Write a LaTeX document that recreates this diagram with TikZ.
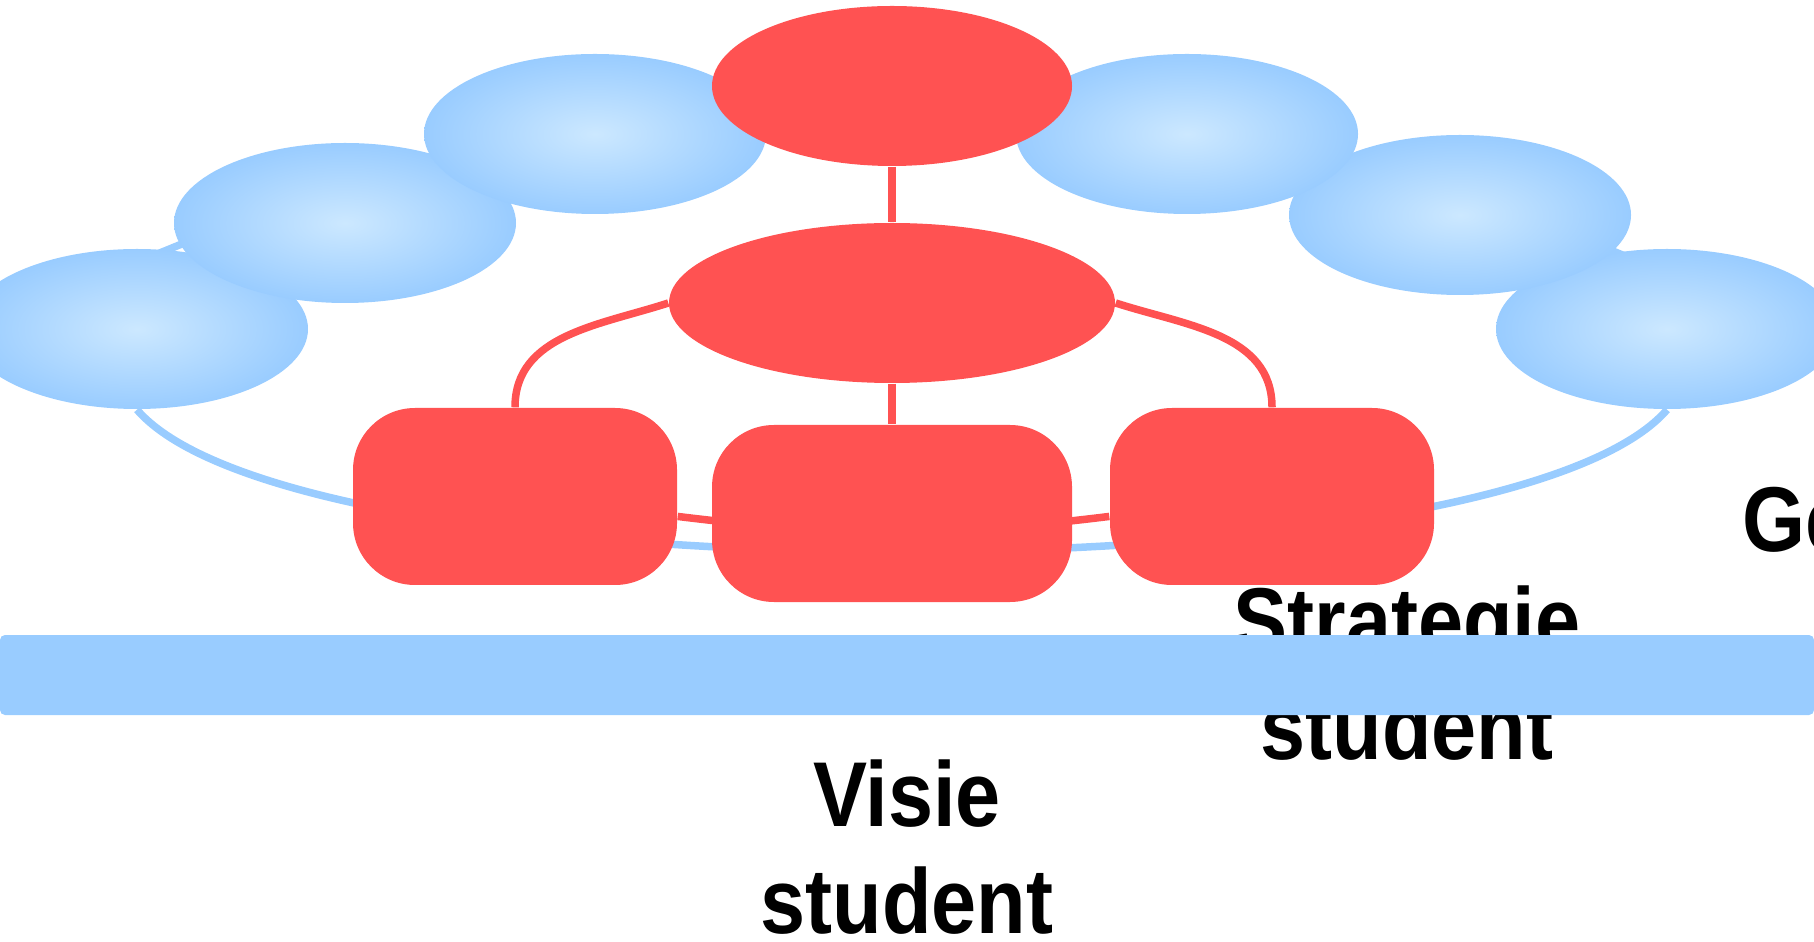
\documentclass[tikz,border=0pt]{standalone}
\usepackage{fontspec}
\setmainfont{Liberation Sans}
\newfontfamily\labelfont[FakeStretch=0.88]{Liberation Sans}
\usetikzlibrary{shapes.geometric,backgrounds}
\definecolor{boxred}{HTML}{FF5252}
\definecolor{barblue}{HTML}{99CCFF}
\definecolor{glowblue}{HTML}{CCE8FF}
\tikzstyle{cloud}=[ellipse,minimum width=3.42cm,minimum height=1.6cm,inner sep=0pt,shading=radial,inner color=glowblue,outer color=barblue]
\tikzstyle{redball}=[ellipse,fill=boxred,minimum height=1.6cm,inner sep=0pt]
\tikzstyle{redbox}=[rectangle,fill=boxred,rounded corners=0.62cm,minimum height=1.77cm,inner sep=0pt]
\tikzstyle{rline}=[boxred,line width=0.75mm]
\tikzstyle{bline}=[barblue,line width=0.75mm]
\tikzstyle{tagtext}=[font=\labelfont\bfseries\fontsize{26.2}{30.4}\selectfont,align=center,inner sep=0pt]

\begin{document}
\begin{tikzpicture}
  \useasboundingbox (0,0) rectangle (18.14,9.41);

  % BLUE RING
  \node[cloud] (B1) at (1.37,6.12) {};
  \node[cloud] (B6) at (16.67,6.12) {};
  \node[cloud] (B2) at (3.45,7.18) {};
  \node[cloud] (B5) at (14.60,7.26) {};
  \node[cloud] (B3) at (5.95,8.07) {};
  \node[cloud] (B4) at (11.87,8.07) {};

  % RED TREE
  \node[redball,minimum width=3.6cm] (T) at (8.92,8.55) {};
  \node[redball,minimum width=4.46cm] (M) at (8.92,6.38) {};
  \node[redbox,minimum width=3.24cm] (L) at (5.15,4.445) {};
  \node[redbox,minimum width=3.6cm] (C) at (8.92,4.275) {};
  \node[redbox,minimum width=3.24cm] (R) at (12.72,4.445) {};

  % LINKS
  \begin{scope}[on background layer]
    \draw[bline] (B1.south) .. controls (3.00,3.42) and (15.04,3.42) .. (B6.south);
    \draw[bline] ([yshift=-0.14cm]B1.north) -- ([yshift=-0.35cm]B2.north);
    \draw[bline] ([yshift=-0.25cm]B6.north) -- ([yshift=-0.54cm]B5.north);
    \draw[rline] (T) -- (M);
    \draw[rline] (M) -- (C);
    \draw[rline] (M.west) to[out=198,in=90] (L.north);
    \draw[rline] (M.east) to[out=-18,in=90] (R.north);
    \draw[rline] (L) to[bend right=7] (R);
  \end{scope}

  % TEXT
  \node[tagtext,anchor=base] (visie) at (9.07,0.08) {Visie\\student};
  \node[tagtext,anchor=base] (strat) at (14.07,1.82) {Strategie\\student};
  \node[tagtext,anchor=base west] (ge) at (17.42,3.89) {Ge};

  % BAR
  \fill[barblue,rounded corners=0.5mm] (0,2.26) rectangle (18.14,3.06);
\end{tikzpicture}
\end{document}
